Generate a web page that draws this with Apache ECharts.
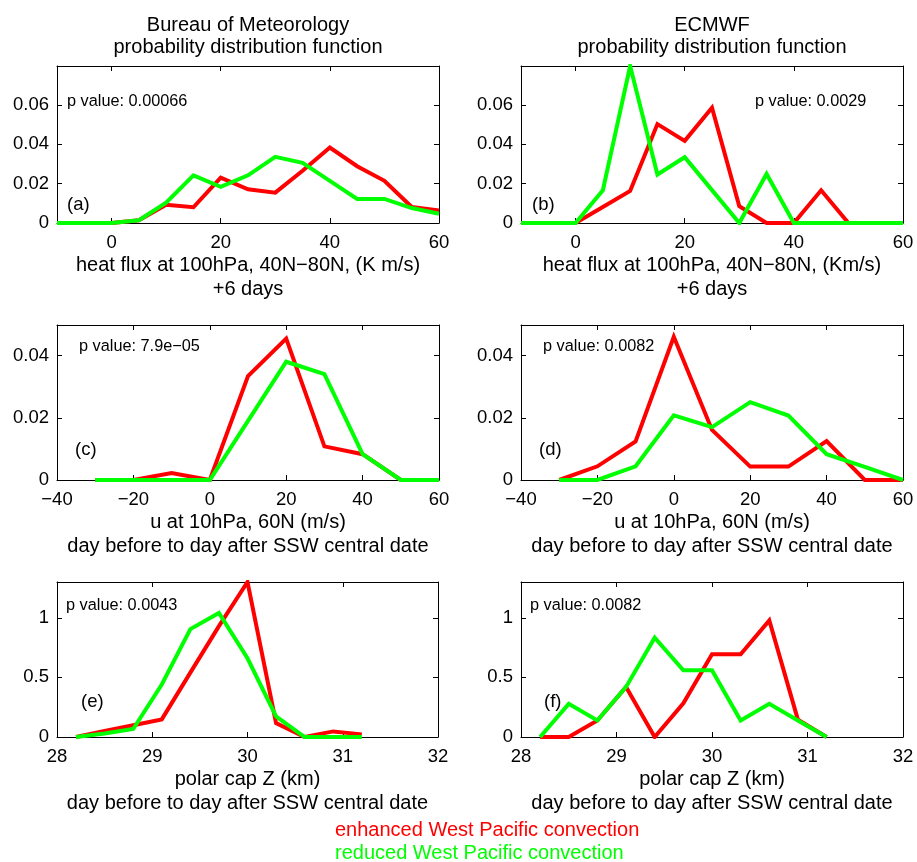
<!DOCTYPE html>
<html>
<head>
<meta charset="utf-8">
<script src="https://cdn.jsdelivr.net/npm/echarts@6/dist/echarts.min.js"></script>
<style>
html,body{margin:0;padding:0;background:#fff;}
#chart{width:917px;height:862px;}
</style>
</head>
<body>
<div id="chart"></div>
<script>
// ---------- data ----------
var xHeat = [-10,-5,0,5,10,15,20,25,30,35,40,45,50,55,60];
var redA   = [0,0,0,0.0014,0.0093,0.008,0.023,0.0171,0.0154,0.0265,0.0383,0.0288,0.0214,0.0081,0.0064];
var greenA = [0,0,0,0.0014,0.0103,0.0242,0.0183,0.0242,0.0336,0.0305,0.0214,0.0122,0.0122,0.0076,0.0047];
var redB   = [0,0,0,0.0081,0.0163,0.0502,0.0417,0.0585,0.0085,0,0,0.0166,0,0,0];
var greenB = [0,0,0,0.0166,0.0797,0.0246,0.0334,0.0167,0,0.0249,0,0,0,0,0];

var xWind = [-30,-20,-10,0,10,20,30,40,50,60];
var redC   = [0,0,0.0022,0,0.0334,0.0454,0.0108,0.0083,0,0];
var greenC = [0,0,0,0,0.019,0.038,0.034,0.0083,0,0];
var redD   = [0,0.0044,0.0124,0.046,0.0161,0.0043,0.0043,0.0125,0,0];
var greenD = [0,0,0.0044,0.0208,0.017,0.025,0.0207,0.0083,0.0042,0];

var xZ = [28.2,28.5,28.8,29.1,29.4,29.7,30.0,30.3,30.6,30.9,31.2];
var redE   = [0,0.05,0.098,0.148,0.54,0.93,1.3,0.117,0,0.047,0.022];
var greenE = [0,0.03,0.067,0.44,0.905,1.04,0.66,0.173,0,0,0];
var redF   = [0,0,0.139,0.42,0,0.283,0.694,0.694,0.978,0.144,0];
var greenF = [0,0.278,0.139,0.42,0.833,0.56,0.56,0.139,0.278,0.139,0];

var xTicksHeat = [0,20,40,60];
var xTicksWind = [-40,-20,0,20,40,60];
var xTicksZ = [28,29,30,31,32];
var yTicksHeat = [0,0.02,0.04,0.06];
var yTicksWind = [0,0.02,0.04];
var yTicksZ = [0,0.5,1];

var pValues = ['p value: 0.00066','p value: 0.0029','p value: 7.9e\u221205','p value: 0.0082','p value: 0.0043','p value: 0.0082'];
var panelTags = ['(a)','(b)','(c)','(d)','(e)','(f)'];
var columnTitles = ['Bureau of Meteorology','ECMWF'];
var columnSub = 'probability distribution function';
var xTitles = [
  ['heat flux at 100hPa, 40N\u221280N, (K m/s)','+6 days'],
  ['heat flux at 100hPa, 40N\u221280N, (Km/s)','+6 days'],
  ['u at 10hPa, 60N (m/s)','day before to day after SSW central date'],
  ['u at 10hPa, 60N (m/s)','day before to day after SSW central date'],
  ['polar cap Z (km)','day before to day after SSW central date'],
  ['polar cap Z (km)','day before to day after SSW central date']
];
var legendNames = ['enhanced West Pacific convection','reduced West Pacific convection'];

// ---------- layout ----------
var FONT = '"Liberation Sans", Arial, Helvetica, sans-serif';
var RED = '#ff0000', GREEN = '#00ff00';
var panels = [
  {left:57,  top:66,  width:382, height:157, x:xHeat, r:redA, g:greenA, xmin:-10, xmax:60, xt:xTicksHeat, ymax:0.0797, yt:yTicksHeat},
  {left:521, top:66,  width:382, height:157, x:xHeat, r:redB, g:greenB, xmin:-10, xmax:60, xt:xTicksHeat, ymax:0.0797, yt:yTicksHeat},
  {left:57,  top:325, width:382, height:155, x:xWind, r:redC, g:greenC, xmin:-40, xmax:60, xt:xTicksWind, ymax:0.0498, yt:yTicksWind},
  {left:521, top:325, width:382, height:155, x:xWind, r:redD, g:greenD, xmin:-40, xmax:60, xt:xTicksWind, ymax:0.0498, yt:yTicksWind},
  {left:57,  top:582, width:381, height:155, x:xZ, r:redE, g:greenE, xmin:28, xmax:32, xt:xTicksZ, ymax:1.3, yt:yTicksZ},
  {left:521, top:582, width:382, height:155, x:xZ, r:redF, g:greenF, xmin:28, xmax:32, xt:xTicksZ, ymax:1.3, yt:yTicksZ}
];
var pPos = [[67,102],[755,102],[79,347],[543,347],[66,606],[530,606]];
var tagPos = [[67,205],[532,205],[75,450],[539,450],[81,702],[544,702]];

function fmt(v){ return String(+v.toFixed(4)).replace('-','\u2212'); }

var grids=[], xAxes=[], yAxes=[], series=[], graphics=[];
panels.forEach(function(p,i){
  grids.push({left:p.left, top:p.top, width:p.width, height:p.height, containLabel:false});
  var lineS = {show:true, onZero:false, lineStyle:{color:'#000', width:1}};
  var tickS = function(vals){ return {show:true, inside:true, length:5, customValues:vals, lineStyle:{color:'#000',width:1}}; };
  xAxes.push({type:'value', gridIndex:i, position:'bottom', min:p.xmin, max:p.xmax,
    axisLine:lineS, axisTick:tickS(p.xt), splitLine:{show:false},
    axisLabel:{customValues:p.xt, formatter:fmt, color:'#000', fontSize:18.5, fontFamily:FONT, margin:10}});
  xAxes.push({type:'value', gridIndex:i, position:'top', min:p.xmin, max:p.xmax,
    axisLine:lineS, axisTick:tickS(p.xt), splitLine:{show:false}, axisLabel:{show:false}});
  yAxes.push({type:'value', gridIndex:i, position:'left', min:0, max:p.ymax,
    axisLine:lineS, axisTick:tickS(p.yt), splitLine:{show:false},
    axisLabel:{customValues:p.yt, formatter:fmt, color:'#000', fontSize:18.5, fontFamily:FONT, margin:8}});
  yAxes.push({type:'value', gridIndex:i, position:'right', min:0, max:p.ymax,
    axisLine:lineS, axisTick:tickS(p.yt), splitLine:{show:false}, axisLabel:{show:false}});
  [[p.r,RED,legendNames[0]],[p.g,GREEN,legendNames[1]]].forEach(function(s){
    series.push({type:'line', name:s[2], xAxisIndex:2*i, yAxisIndex:2*i, showSymbol:false, symbol:'none',
      clip:true, animation:false, silent:true,
      lineStyle:{color:s[1], width:4, join:'miter'},
      data:p.x.map(function(xv,k){ return [xv, s[0][k]]; })});
  });
  var cx = p.left + p.width/2;
  graphics.push({type:'text', x:cx, y:p.top+p.height+42, style:{text:xTitles[i][0], font:'20px '+FONT, fill:'#000', align:'center', verticalAlign:'middle'}});
  graphics.push({type:'text', x:cx, y:p.top+p.height+66, style:{text:xTitles[i][1], font:'20px '+FONT, fill:'#000', align:'center', verticalAlign:'middle'}});
  graphics.push({type:'text', x:pPos[i][0], y:pPos[i][1], style:{text:pValues[i], font:'16.3px '+FONT, fill:'#000', align:'left', verticalAlign:'middle'}});
  graphics.push({type:'text', x:tagPos[i][0], y:tagPos[i][1], style:{text:panelTags[i], font:'18.5px '+FONT, fill:'#000', align:'left', verticalAlign:'middle'}});
});
[248, 712].forEach(function(cx,j){
  graphics.push({type:'text', x:cx, y:25, style:{text:columnTitles[j], font:'20px '+FONT, fill:'#000', align:'center', verticalAlign:'middle'}});
  graphics.push({type:'text', x:cx, y:47, style:{text:columnSub, font:'20px '+FONT, fill:'#000', align:'center', verticalAlign:'middle'}});
});
graphics.push({type:'text', x:335, y:830, style:{text:legendNames[0], font:'20px '+FONT, fill:RED, align:'left', verticalAlign:'middle'}});
graphics.push({type:'text', x:335, y:853, style:{text:legendNames[1], font:'20px '+FONT, fill:GREEN, align:'left', verticalAlign:'middle'}});

var chart = echarts.init(document.getElementById('chart'), null, {renderer:'canvas'});
chart.setOption({
  backgroundColor:'#fff',
  animation:false,
  grid:grids, xAxis:xAxes, yAxis:yAxes, series:series,
  graphic:{elements:graphics}
});
</script>
</body>
</html>
